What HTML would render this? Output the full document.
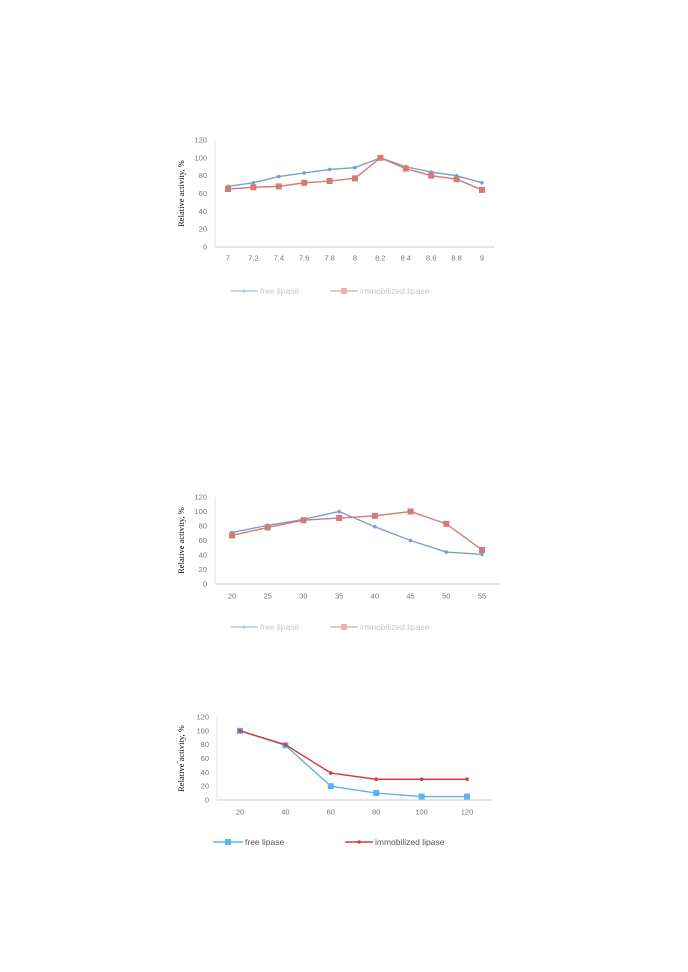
<!DOCTYPE html>
<html><head><meta charset="utf-8"><style>
body{margin:0;background:#fff;width:688px;height:972px;overflow:hidden}
svg{position:absolute;left:0;top:0}
</style></head><body>
<svg id="s" width="688" height="972" font-family="Liberation Sans, sans-serif"></svg>
<script>
const c1Cats=["7","7.2","7.4","7.6","7.8","8","8.2","8.4","8.6","8.8","9"];
const c1Free=[68,72,79,83,87,89,100,90,84,80,72];
const c1Imm=[65,67,68,72,74,77,100,88,80,76,64];
const c2Cats=["20","25","30","35","40","45","50","55"];
const c2Free=[71,81,89,100,79,60,44,41];
const c2Imm=[67,78,88,91,94,100,83,47];
const c3Cats=["20","40","60","80","100","120"];
const c3Free=[100,79,20,10,5,5];
const c3Imm=[100,80,39,30,30,30];
const yTicks=[0,20,40,60,80,100,120];
const S=document.getElementById('s');
const NS='http://www.w3.org/2000/svg';
function mk(t,a,p){const e=document.createElementNS(NS,t);for(const k in a)e.setAttribute(k,a[k]);(p||S).appendChild(e);return e;}
const charts=[
 {name:'ph',cats:c1Cats,f:c1Free,i:c1Imm,y0:247,y120:140,ax0:215,ax1:495,x0:228,x1:482,lab:258,leg:291,fc:'#7c9fd0',ic:'#d47b77',fm:'d',im:'s',fl:[231,258],il:[330,358],faint:true},
 {name:'temp',cats:c2Cats,f:c2Free,i:c2Imm,y0:584,y120:497,ax0:215,ax1:500,x0:232,x1:482,lab:596,leg:627,fc:'#7c9fd0',ic:'#d47b77',fm:'d',im:'s',fl:[231,258],il:[330,358],faint:true},
 {name:'time',cats:c3Cats,f:c3Free,i:c3Imm,y0:800,y120:717,ax0:217,ax1:492,x0:240,x1:467,lab:812,leg:842,fc:'#5bb5ea',ic:'#d23c3c',fm:'s',im:'d',fl:[213,243],il:[345,373],faint:false}
];
function marker(g,type,x,y,col,sz){
 if(type==='s'){const r=mk('rect',{x:x-sz,y:y-sz,width:2*sz,height:2*sz,fill:col},g);}
 else{const r=mk('circle',{cx:x,cy:y,r:sz*0.7,fill:col},g);}
}
charts.forEach(ch=>{
 const g=mk('g',{});
 const sy=v=>ch.y0+(ch.y120-ch.y0)*v/120;
 const n=ch.cats.length;const sx=k=>ch.x0+(ch.x1-ch.x0)*k/(n-1);
 const ax=mk('line',{x1:ch.ax0,y1:ch.y0,x2:ch.ax1,y2:ch.y0,stroke:'#ccc','stroke-width':1},g);
 const ay=mk('line',{x1:ch.ax0,y1:ch.y0,x2:ch.ax0,y2:ch.y120,stroke:'#e6e6e6','stroke-width':1},g);
 yTicks.forEach(v=>{const t=mk('text',{x:ch.ax0-8,y:sy(v)+2.5,'font-size':7.5,fill:'#777','text-anchor':'end'},g);t.textContent=v;});
 ch.cats.forEach((c,k)=>{const t=mk('text',{x:sx(k),y:ch.lab+2.5,'font-size':7.5,fill:'#777','text-anchor':'middle'},g);t.textContent=c;});
 const yt=mk('text',{x:0,y:0,'font-size':8.5,fill:'#000','font-family':'Liberation Serif, serif','text-anchor':'middle',transform:`translate(184,${(ch.y0+ch.y120)/2}) rotate(-90)`},g);yt.textContent='Relative activity, %';
 [[ch.f,ch.fc,ch.fm,'free'],[ch.i,ch.ic,ch.im,'immobilized']].forEach(([d,col,m,nm])=>{
  const p=mk('polyline',{points:d.map((v,k)=>sx(k)+','+sy(v)).join(' '),fill:'none',stroke:col,'stroke-width':1.4},g);
  d.forEach((v,k)=>marker(g,m,sx(k),sy(v),col,m==='s'?3:2.6));
 });
 const lc=ch.faint?['#b9cbe6','#e8b7b4']:[ch.fc,ch.ic];const tc=ch.faint?'#c8c8c8':'#555';
 [[ch.fl,lc[0],ch.fm,'free lipase'],[ch.il,lc[1],ch.im,'immobilized lipase']].forEach(([l,col,m,txt])=>{
  const lg=mk('g',{},g);
  mk('line',{x1:l[0],y1:ch.leg,x2:l[1],y2:ch.leg,stroke:col,'stroke-width':1.4},lg);
  marker(lg,m,(l[0]+l[1])/2,ch.leg,col,m==='s'?3:2.4);
  const t=mk('text',{x:l[1]+2,y:ch.leg+3,'font-size':8.5,fill:tc},lg);t.textContent=txt;
 });
});
const mkx=mk('text',{x:176,y:768,'font-size':8,fill:'#000'});mkx.textContent='ˊ';
</script>
</body></html>
